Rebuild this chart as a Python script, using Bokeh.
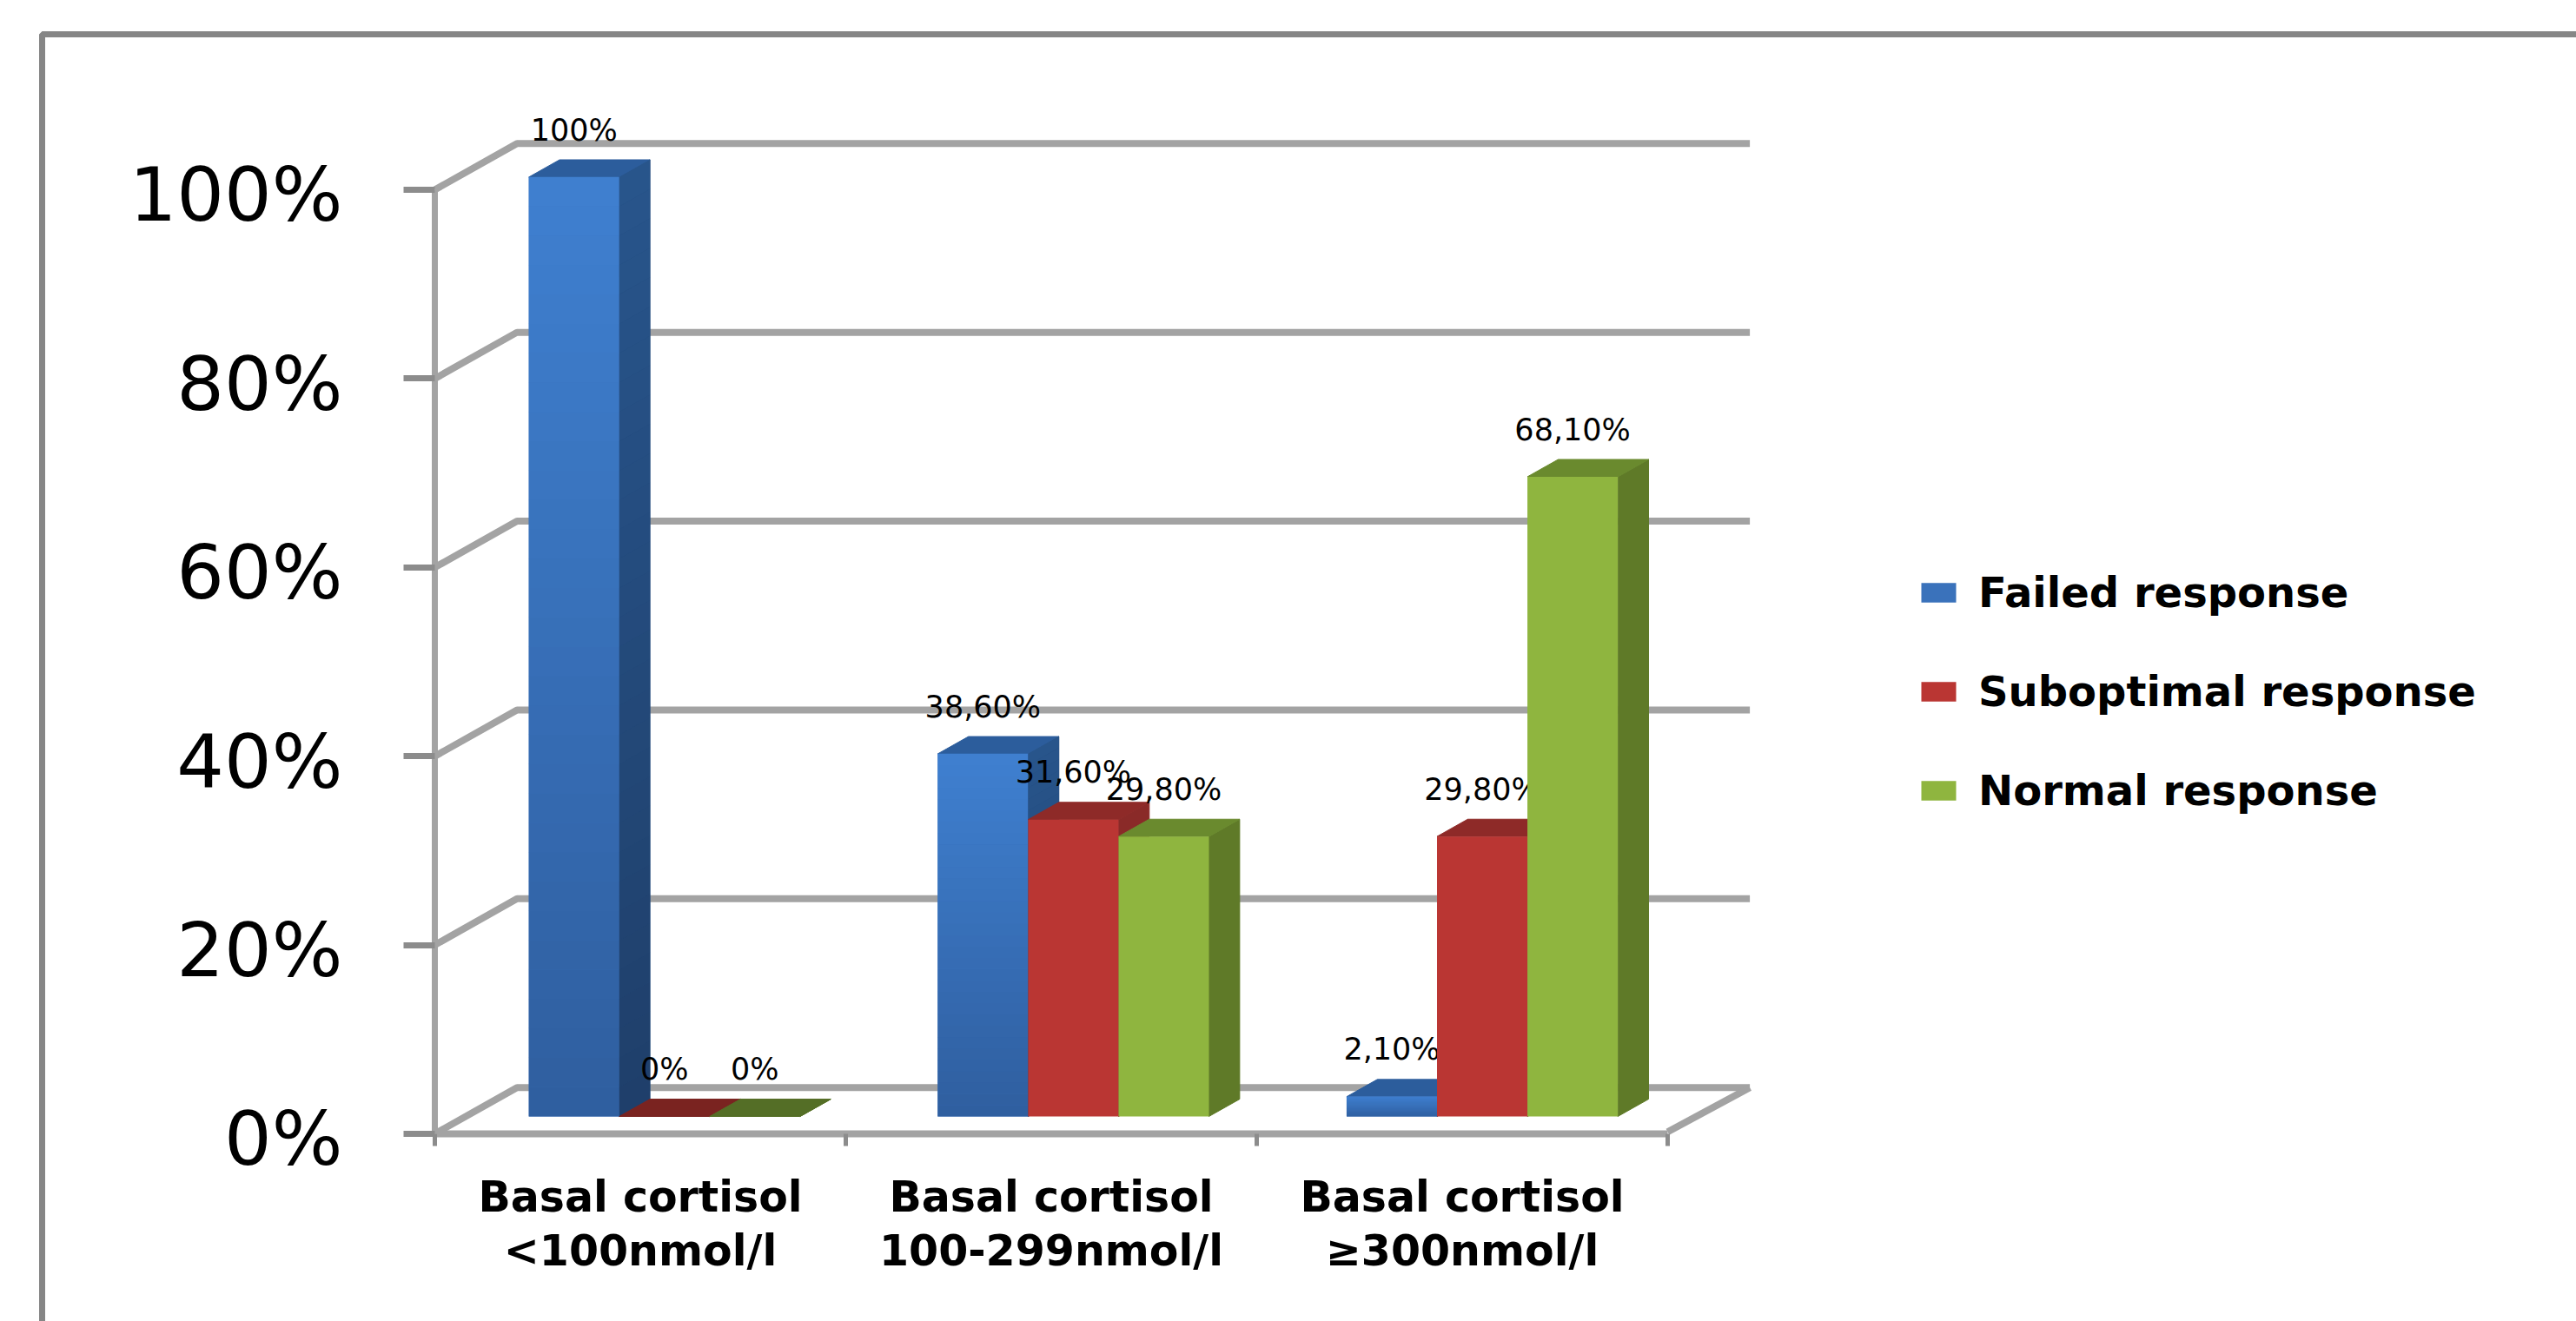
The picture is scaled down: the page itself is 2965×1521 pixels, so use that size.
from bokeh.plotting import figure
from bokeh.embed import file_html
from bokeh.resources import INLINE
from bokeh.core.properties import value
from bokeh.models import (Range1d, LinearAxis, FixedTicker, Legend, LegendItem,
                          PolyAnnotation)

# ---- data ----
categories = ["Basal cortisol\n<100nmol/l", "Basal cortisol\n100-299nmol/l", "Basal cortisol\n\u2265300nmol/l"]
failed = [100, 38.6, 2.1]
suboptimal = [0, 31.6, 29.8]
normal = [0, 29.8, 68.1]
failed_labels = ["100%", "38,60%", "2,10%"]
suboptimal_labels = ["0%", "31,60%", "29,80%"]
normal_labels = ["0%", "29,80%", "68,10%"]
series_names = ["Failed response", "Suboptimal response", "Normal response"]
y_ticks = [0, 20, 40, 60, 80, 100]

# ---- layout / projection ----
W, H = 2965, 1521
X0, Y0 = 500, 1305               # canvas px of the chart origin
PX_X, PX_Y = 473.0, 10.87        # px per category, px per percent
DEPTH_X, DEPTH_Y = 0.2, 4.9      # offset of the back wall
BAR_W = 0.22
BAR_OFF = 0.1535
BAR_STEP = 0.995
D0, D1 = 0.376, 0.75             # depth of bar front and back
V_SCALE = 0.995
LABEL_UP = 5.0
TICK_LABEL_SHIFT = 0.55
AXIS = "#a3a3a3"
TICK = "#8c8c8c"

p = figure(width=W, height=H, output_backend="svg", toolbar_location=None,
           x_range=Range1d(-X0 / PX_X, (W - X0) / PX_X),
           y_range=Range1d(-(H - Y0) / PX_Y, Y0 / PX_Y),
           x_axis_type=None, y_axis_type=None,
           min_border_left=0, min_border_bottom=0, min_border_top=0, min_border_right=0)
p.outline_line_color = None
p.grid.visible = False
p.background_fill_color = "white"


def px(x, d):
    return x + DEPTH_X * d


def py(v, d):
    return v * V_SCALE + DEPTH_Y * d


# outer frame of the picture (runs off the page on the right and at the bottom)
frame = PolyAnnotation(xs=[48, 48, W + 20, W + 20], ys=[H + 20, 39, 39, H + 20],
                       xs_units="canvas", ys_units="canvas",
                       fill_alpha=0, line_color="#868686", line_width=7, line_alpha=1)
p.add_layout(frame)

# walls and floor
gl_x, gl_y = [], []
for t in y_ticks:
    gl_x.append([0, px(0, 1), px(3, 1)])
    gl_y.append([t, t + DEPTH_Y, t + DEPTH_Y])
p.multi_line(gl_x, gl_y, line_color=AXIS, line_width=8, line_join="round")
p.line([px(3, 1), 3], [DEPTH_Y, 0.2], line_color=AXIS, line_width=8)

# axes
yax = LinearAxis(ticker=FixedTicker(ticks=y_ticks), fixed_location=0)
yax.bounds = (0, 100)
yax.axis_line_color = AXIS
yax.axis_line_width = 7
yax.major_tick_line_color = TICK
yax.major_tick_line_width = 7
yax.major_tick_out = 36
yax.major_tick_in = 0
yax.minor_tick_line_color = None
yax.major_label_text_color = None
yax.major_label_text_font_size = "0px"
yax.major_label_overrides = {t: "" for t in y_ticks}
p.add_layout(yax, "left")

label_ticks = [t - TICK_LABEL_SHIFT for t in y_ticks]
ylab = LinearAxis(ticker=FixedTicker(ticks=label_ticks), fixed_location=0,
                  major_label_overrides={t - TICK_LABEL_SHIFT: f"{t}%" for t in y_ticks})
ylab.axis_line_color = None
ylab.major_tick_line_color = None
ylab.minor_tick_line_color = None
ylab.major_tick_out = 0
ylab.major_tick_in = 0
ylab.major_label_standoff = 106
ylab.major_label_text_font = "DejaVu Sans"
ylab.major_label_text_font_size = "86px"
ylab.major_label_text_color = "black"
p.add_layout(ylab, "left")

xax = LinearAxis(ticker=FixedTicker(ticks=[0.5, 1.5, 2.5], minor_ticks=[0, 1, 2, 3]),
                 major_label_overrides={i + 0.5: c for i, c in enumerate(categories)},
                 fixed_location=0)
xax.bounds = (0, 3)
xax.axis_line_color = AXIS
xax.axis_line_width = 8
xax.major_tick_line_color = None
xax.minor_tick_line_color = TICK
xax.minor_tick_line_width = 5
xax.minor_tick_out = 14
xax.minor_tick_in = 0
xax.major_label_standoff = 30
xax.major_label_text_font = "DejaVu Sans"
xax.major_label_text_font_style = "bold"
xax.major_label_text_font_size = "49px"
xax.major_label_text_color = "black"
xax.major_label_text_line_height = 1.1
p.add_layout(xax, "below")


def lerp(a, b, t):
    return tuple(round(a[i] + (b[i] - a[i]) * t) for i in range(3))


def hexc(c):
    return "#%02x%02x%02x" % c


def draw_series(idx, vals, front, side, top, zero_top, labels, gradient=None):
    lefts = [c * BAR_STEP + BAR_OFF + idx * BAR_W for c in range(3)]
    sx, sy, tx, ty = [], [], [], []
    for l, v in zip(lefts, vals):
        r = l + BAR_W
        sx.append([px(r, D0), px(r, D1), px(r, D1), px(r, D0)])
        sy.append([py(0, D0), py(0, D1), py(v, D1), py(v, D0)])
        tx.append([px(l, D0), px(r, D0), px(r, D1), px(l, D1)])
        ty.append([py(v, D0), py(v, D0), py(v, D1), py(v, D1)])
    p.patches(sx, sy, fill_color=side, line_color=side, line_width=1)
    tcol = [top if v > 0 else zero_top for v in vals]
    p.patches(tx, ty, fill_color=tcol, line_color=tcol, line_width=1)
    fl = [px(l, D0) for l in lefts]
    fr = [px(l + BAR_W, D0) for l in lefts]
    base = [py(0, D0)] * 3
    tops = [py(v, D0) for v in vals]
    r = p.quad(left=fl, right=fr, bottom=base, top=tops, fill_color=front, line_color=None)
    if gradient:
        (f_top, f_bot), (s_top, s_bot) = gradient
        n = 32
        for l, v in zip(lefts, vals):
            rr = l + BAR_W
            for k in range(n):
                v0, v1 = v * k / n, v * (k + 1) / n
                t = (k + 0.5) / n
                p.quad(left=px(l, D0), right=px(rr, D0), bottom=py(v0, D0), top=py(v1, D0) + 0.02,
                       fill_color=hexc(lerp(f_bot, f_top, t)), line_color=None)
                p.patch([px(rr, D0), px(rr, D1), px(rr, D1), px(rr, D0)],
                        [py(v0, D0), py(v0, D1), py(v1, D1) + 0.02, py(v1, D0) + 0.02],
                        fill_color=hexc(lerp(s_bot, s_top, t)), line_color=None)
    # data labels
    p.text([px(l + BAR_W / 2, D0) for l in lefts], [py(v, D0) + LABEL_UP for v in vals], text=labels,
           text_font=value("DejaVu Sans"), text_font_size="35px", text_color="black",
           text_align="center", text_baseline="middle")
    return r


r_blue = draw_series(0, failed, "#3a72bb", "#234a7c", "#2c5d9c", "#2c5d9c", failed_labels,
                     gradient=(((0x3f, 0x80, 0xd0), (0x2f, 0x5e, 0x9f)), ((0x28, 0x55, 0x8c), (0x1f, 0x3f, 0x6a))))
r_red = draw_series(1, suboptimal, "#ba3633", "#8a2a28", "#8e2a28", "#7a2320", suboptimal_labels)
r_green = draw_series(2, normal, "#8fb53f", "#5f7a28", "#6a8a2e", "#546e26", normal_labels)

# legend
legend = Legend(items=[LegendItem(label=series_names[0], renderers=[r_blue]),
                       LegendItem(label=series_names[1], renderers=[r_red]),
                       LegendItem(label=series_names[2], renderers=[r_green])],
                location=(2206, 583), orientation="vertical",
                glyph_width=50, glyph_height=28, label_standoff=21,
                spacing=58, padding=0, margin=0, border_line_color=None,
                background_fill_alpha=0,
                label_text_font="DejaVu Sans", label_text_font_style="bold",
                label_text_font_size="48px", label_text_color="black")
p.add_layout(legend, "center")

open("out.html", "w").write(file_html(p, INLINE))
